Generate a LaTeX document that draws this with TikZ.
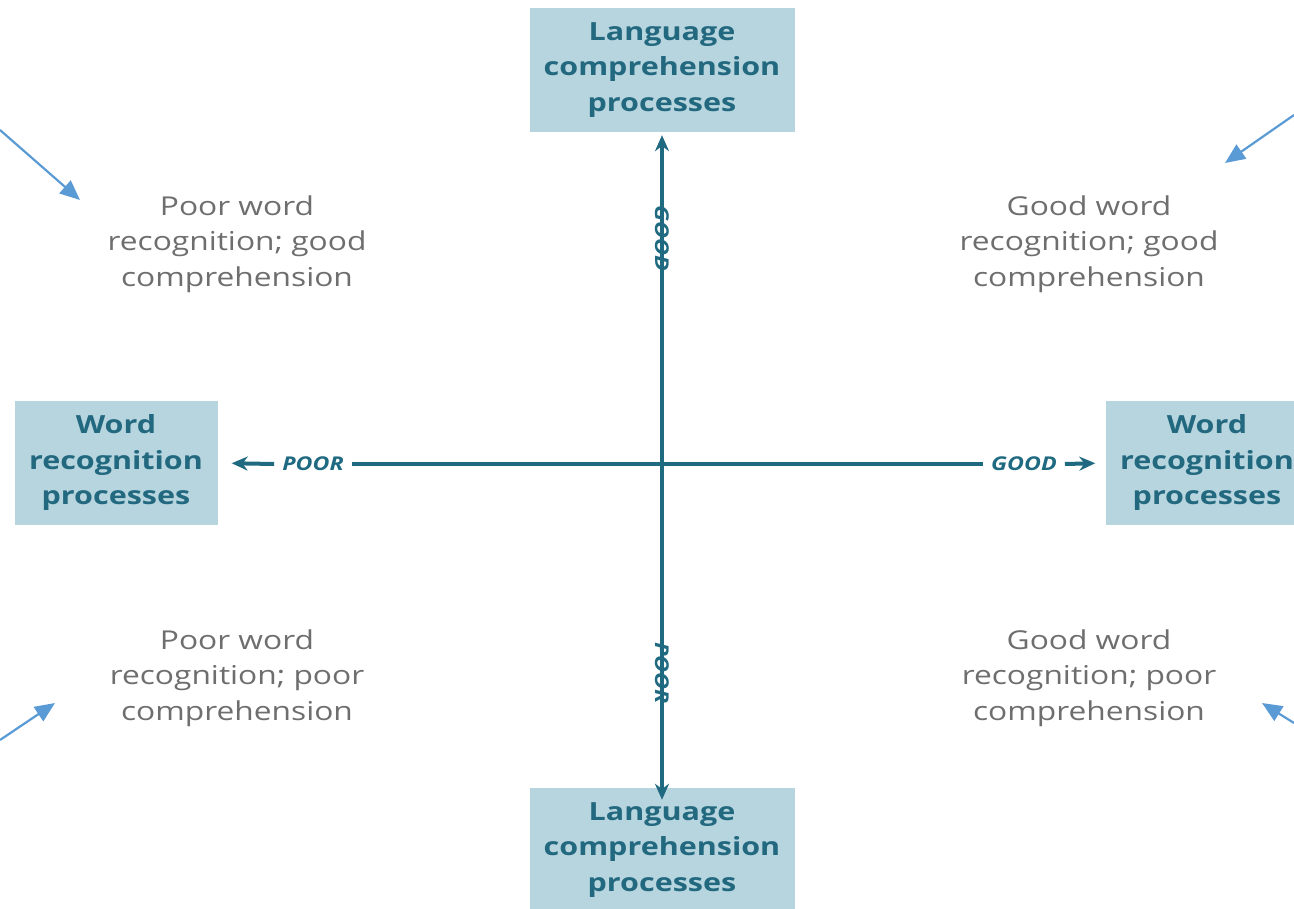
\documentclass[tikz,border=0pt]{standalone}
\usepackage{fontspec}
\setmainfont{Open Sans}[FakeStretch=1.22]
\usetikzlibrary{arrows.meta}
\definecolor{boxfill}{HTML}{B7D5DF}
\definecolor{boxtext}{HTML}{22687F}
\definecolor{axiscol}{HTML}{1F6A80}
\definecolor{quadtext}{HTML}{6E6E6E}
\definecolor{callout}{HTML}{5B9BD5}
\tikzset{
  procbox/.style={fill=boxfill, text=boxtext, align=center, inner sep=0pt,
    minimum width=265pt, minimum height=124pt,
    font=\fontsize{25}{35.5}\selectfont\bfseries},
  sidebox/.style={procbox, minimum width=203pt},
  quad/.style={text=quadtext, align=center, inner sep=0pt,
    font=\fontsize{26}{35.5}\selectfont},
  axislabel/.style={text=axiscol, inner ysep=0pt, inner xsep=8pt,
    font=\fontsize{19}{20}\selectfont\bfseries\itshape},
  axis/.style={draw=axiscol, line width=4pt},
  axisarrow/.style={axis, -{Stealth[length=16pt,width=14pt]}},
  callarrow/.style={draw=callout, line width=2.2pt, -{Triangle[length=20pt,width=17pt]}}
}
\begin{document}
\begin{tikzpicture}[x=1pt,y=-1pt]
\useasboundingbox (0,0) rectangle (1294,909);
\clip (0,0) rectangle (1294,909);
% boxes
\node[procbox] (top) at (662,70) {Language\\comprehension\\processes};
\node[procbox] (bot) at (662,850) {Language\\comprehension\\processes};
\node[sidebox] (left) at (116,463) {Word\\recognition\\processes};
\node[sidebox] (right) at (1207,463) {Word\\recognition\\processes};
% axis labels
\node[axislabel] (poorL) at (313,464) {POOR};
\node[axislabel] (goodR) at (1024,464) {GOOD};
\node[axislabel, rotate=-90, inner xsep=10pt] (goodT) at (662,238) {GOOD};
\node[axislabel, rotate=-90, inner xsep=9pt] (poorB) at (662,673) {POOR};
% axes
\draw[axis] (poorL.east) -- (goodR.west);
\draw[axis] (goodT.west) -- (poorB.east);
\draw[axisarrow, shorten >=14pt] (poorL.west) -- (left.east);
\draw[axisarrow, shorten >=10pt] (goodR.east) -- (right.west);
\draw[axisarrow, shorten >=3pt] (goodT.east) -- (top.south);
\draw[axisarrow, shorten >=-12pt] (poorB.west) -- (bot.north);
% quadrant texts
\node[quad] (tl) at (237,244) {Poor word\\recognition; good\\comprehension};
\node[quad] (tr) at (1089,244) {Good word\\recognition; good\\comprehension};
\node[quad] (bl) at (237,678) {Poor word\\recognition; poor\\comprehension};
\node[quad] (br) at (1089,678) {Good word\\recognition; poor\\comprehension};
% callout arrows
\coordinate (tlS) at (0,130);
\coordinate (trS) at (1294,115);
\coordinate (blS) at (0,740);
\coordinate (brS) at (1294,723);
\coordinate (tlE) at (80,200);
\coordinate (trE) at (1225,163);
\coordinate (blE) at (55,703);
\coordinate (brE) at (1262,703);
\draw[callarrow] (tlS) -- (tlE);
\draw[callarrow] (trS) -- (trE);
\draw[callarrow] (blS) -- (blE);
\draw[callarrow] (brS) -- (brE);
\end{tikzpicture}
\end{document}
